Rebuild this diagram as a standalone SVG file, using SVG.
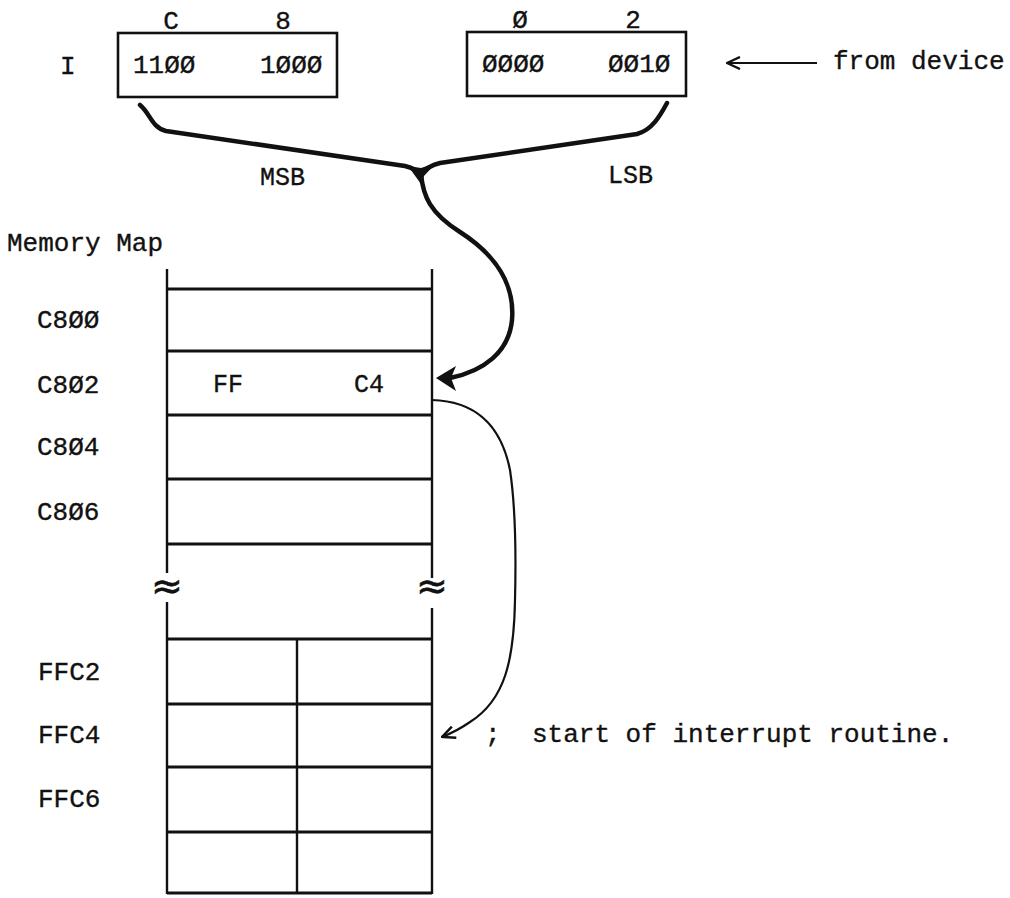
<svg xmlns="http://www.w3.org/2000/svg" width="1010" height="898" viewBox="0 0 1010 898">
  <style>
    .t { font-family: "Liberation Mono", "Courier New", monospace; font-size: 26px; fill: #111; stroke: #111; stroke-width: 0.35; }
    .s { font-family: "Liberation Mono", "Courier New", monospace; font-size: 25px; fill: #111; stroke: #111; stroke-width: 0.35; }
    .brk { font-family: "DejaVu Sans", sans-serif; font-size: 38px; fill: #111; stroke: #111; stroke-width: 0.6; }
    .box { fill: none; stroke: #111; stroke-width: 2.6; }
    .rule { stroke: #111; stroke-width: 2.8; fill: none; }
    .rail { stroke: #111; stroke-width: 2.4; fill: none; }
    .brace { fill: none; stroke: #111; stroke-width: 4.5; stroke-linecap: round; stroke-linejoin: round; }
    .thin { fill: none; stroke: #111; stroke-width: 2.2; }
  </style>
  <defs>
    <marker id="chevron" viewBox="0 0 16 14" refX="15" refY="7" markerWidth="16" markerHeight="14" markerUnits="userSpaceOnUse" orient="auto">
      <path d="M2,1 L15,7 L2,13" fill="none" stroke="#111" stroke-width="2.4" stroke-linejoin="miter"/>
    </marker>
  </defs>
  <rect width="1010" height="898" fill="#fff"/>

  <!-- I register: high byte -->
  <g id="reg-high">
    <text class="t" x="60" y="74">I</text>
    <rect class="box" x="118" y="33" width="219" height="64"/>
    <text class="t" x="171" y="29" text-anchor="middle">C</text>
    <text class="t" x="283" y="29" text-anchor="middle">8</text>
    <text class="t" x="133" y="73">11ØØ</text>
    <text class="t" x="260" y="73">1ØØØ</text>
  </g>

  <!-- I register: low byte -->
  <g id="reg-low">
    <rect class="box" x="467" y="32" width="219" height="64"/>
    <text class="t" x="520" y="28" text-anchor="middle">Ø</text>
    <text class="t" x="633" y="28" text-anchor="middle">2</text>
    <text class="t" x="482" y="72">ØØØØ</text>
    <text class="t" x="608" y="72">ØØ1Ø</text>
  </g>

  <g id="device-label">
    <text class="t" x="833" y="69">from device</text>
  </g>

  <g id="byte-labels">
    <text class="s" x="260" y="185">MSB</text>
    <text class="s" x="608" y="183">LSB</text>
  </g>

  <!-- memory map table -->
  <g id="memory-map">
    <text class="t" x="7" y="251">Memory Map</text>
    <!-- rails with break marks -->
    <path class="rail" d="M167,269 V573 M167,602 V894 M432,269 V578 M432,608 V894 M297,639 V894"/>
    <text class="brk" x="167" y="599" text-anchor="middle">≈</text>
    <text class="brk" x="432" y="599" text-anchor="middle">≈</text>
    <!-- row rules -->
    <path class="rule" d="M167,289 H432 M167,351 H432 M167,415 H432 M167,479 H432 M167,544 H432 M167,639 H432 M167,704 H432 M167,767 H432 M167,832 H432 M167,893 H432"/>
    <text class="t" x="37" y="328">C8ØØ</text>
    <text class="t" x="37" y="393">C8Ø2</text>
    <text class="t" x="37" y="455">C8Ø4</text>
    <text class="t" x="37" y="520">C8Ø6</text>
    <text class="t" x="38" y="680">FFC2</text>
    <text class="t" x="38" y="743">FFC4</text>
    <text class="t" x="38" y="807">FFC6</text>
    <text class="s" x="213" y="392">FF</text>
    <text class="s" x="354" y="392">C4</text>
  </g>

  <g id="routine-label">
    <text class="t" x="485" y="742">;</text>
    <text class="t" x="532" y="742">start of interrupt routine.</text>
  </g>

  <!-- connectors -->
  <g id="connectors">
    <!-- from device into the register -->
    <path class="thin" d="M817,63 H727" marker-end="url(#chevron)"/>
    <!-- brace joining both bytes into the vector -->
    <path class="brace" d="M140,105 C150,113 152,128 166,131 L405,166 C413,168 418,171 421,175"/>
    <path class="brace" d="M667,103 C660,116 652,130 637,134 L440,163 C431,165 425,169 421,175"/>
    <path d="M408,166 L421,168 L436,163 L424,176 L421,184 Z" fill="#111"/>
    <path class="brace" d="M421,174 C423,196 430,213 460,232 C496,255 515,285 512,320 C509,352 484,371 450,378" stroke-width="5"/>
    <path d="M436,378 L456,366 L451,378 L456,391 Z" fill="#111"/>
    <!-- vector contents pointing to the routine -->
    <path class="thin" d="M432,400 C470,401 500,420 510,470 C516,510 516,560 515,600 C514,660 505,700 470,722 C460,729 452,733 442,737" marker-end="url(#chevron)"/>
  </g>
</svg>
